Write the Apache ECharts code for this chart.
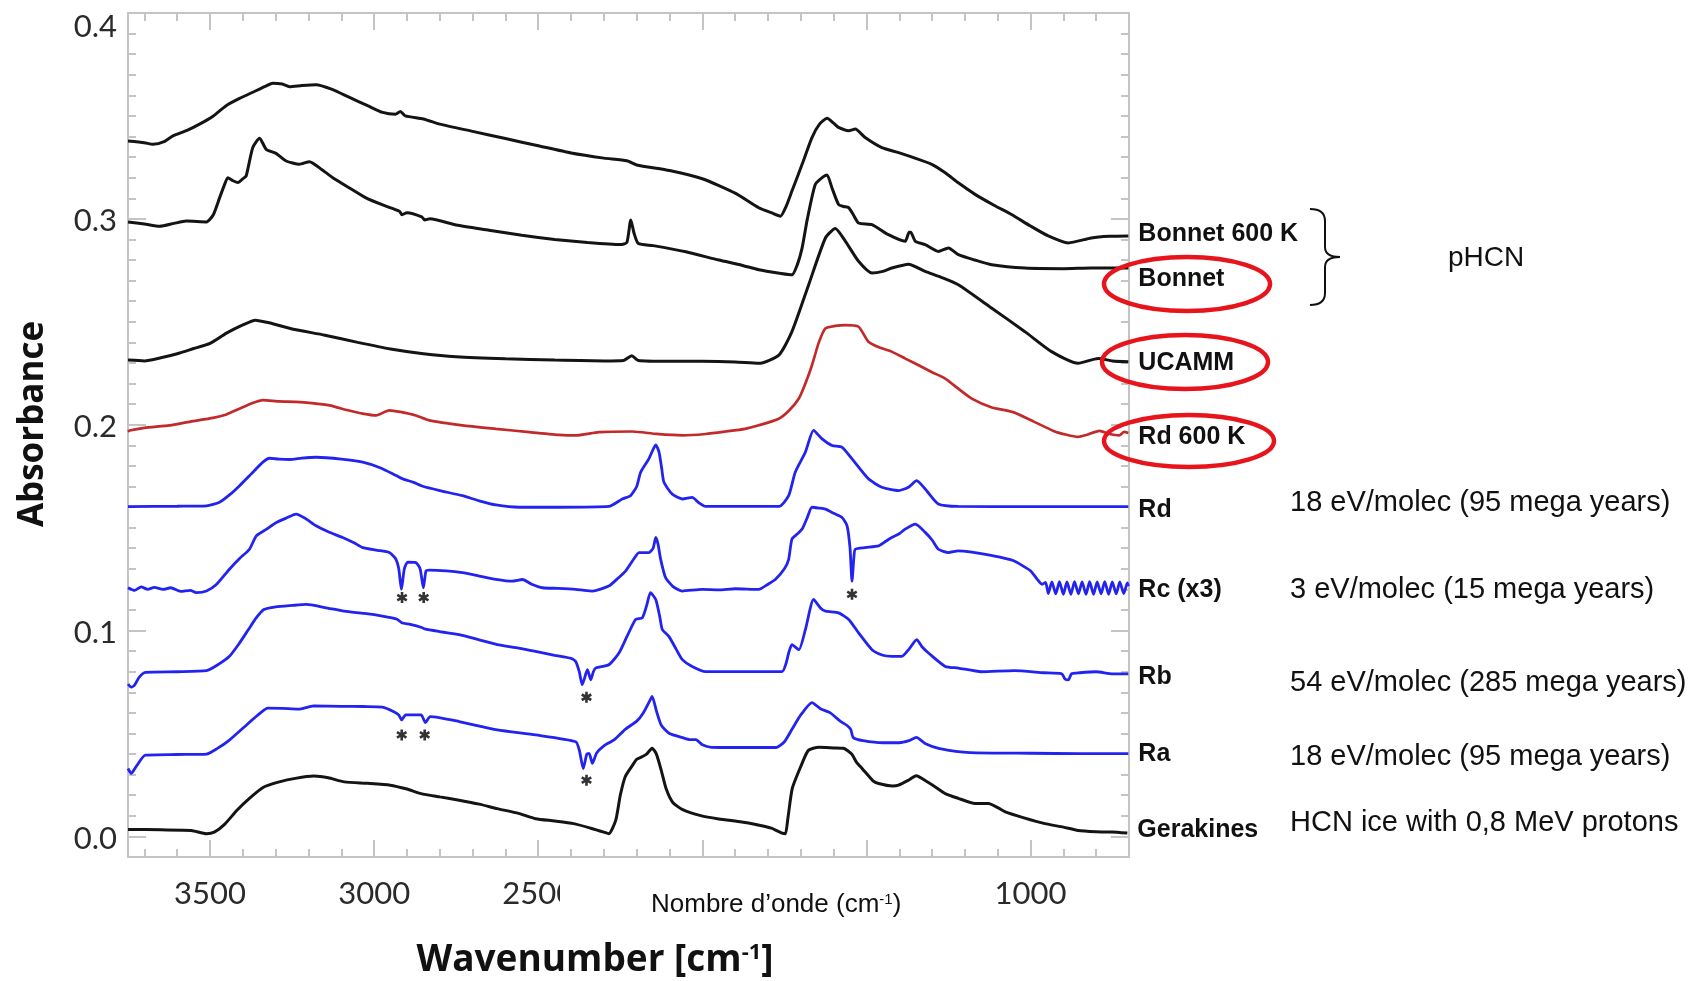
<!DOCTYPE html>
<html>
<head>
<meta charset="utf-8">
<title>IR spectra – absorbance vs wavenumber</title>
<script src="https://cdn.jsdelivr.net/npm/echarts@6/dist/echarts.min.js"></script>
<style>
  html, body { margin: 0; padding: 0; background: #ffffff; }
  #chart { width: 1693px; height: 981px; }
</style>
</head>
<body>
<div id="chart"></div>
<script>
// ---- Axis ticks ----------------------------------------------------------
const xMajorTicks = [1000, 1500, 2000, 2500, 3000, 3500];
const yMajorTicks = [0, 0.1, 0.2, 0.3, 0.4];

// ---- Spectra: [wavenumber (cm-1), absorbance], high to low wavenumber ----
const bonnet600K = [
  [3750, 0.3378], [3700, 0.3370], [3674, 0.3362], [3640, 0.3375], [3613, 0.3403], [3570, 0.3430],
  [3532, 0.3460], [3490, 0.3500], [3451, 0.3550], [3410, 0.3585], [3370, 0.3615], [3330, 0.3645],
  [3309, 0.3659], [3280, 0.3655], [3258, 0.3642], [3220, 0.3648], [3177, 0.3652], [3130, 0.3630],
  [3075, 0.3590], [3020, 0.3550], [2974, 0.3517], [2935, 0.3508], [2920, 0.3522], [2905, 0.3500],
  [2850, 0.3485], [2800, 0.3460], [2700, 0.3425], [2600, 0.3390], [2500, 0.3355], [2400, 0.3320],
  [2300, 0.3295], [2230, 0.3282], [2200, 0.3262], [2100, 0.3235], [2000, 0.3195], [1900, 0.3125],
  [1828, 0.3054], [1790, 0.3030], [1762, 0.3013], [1745, 0.3060], [1727, 0.3135], [1696, 0.3265],
  [1666, 0.3395], [1643, 0.3460], [1620, 0.3489], [1600, 0.3465], [1585, 0.3444], [1554, 0.3428],
  [1534, 0.3436], [1504, 0.3395], [1453, 0.3346], [1402, 0.3322], [1372, 0.3306], [1301, 0.3265],
  [1260, 0.3224], [1220, 0.3175], [1169, 0.3119], [1110, 0.3065], [1058, 0.3021], [1000, 0.2965],
  [946, 0.2917], [885, 0.2883], [815, 0.2907], [760, 0.2915], [702, 0.2917]
];

const bonnet = [
  [3750, 0.2985], [3700, 0.2975], [3653, 0.2964], [3610, 0.2978], [3572, 0.2989], [3511, 0.2985],
  [3490, 0.3020], [3471, 0.3102], [3455, 0.3170], [3446, 0.3200], [3430, 0.3185], [3415, 0.3176],
  [3400, 0.3195], [3390, 0.3208], [3370, 0.3346], [3349, 0.3392], [3329, 0.3338], [3298, 0.3317],
  [3268, 0.3281], [3228, 0.3265], [3197, 0.3278], [3160, 0.3240], [3126, 0.3200], [3075, 0.3150],
  [3025, 0.3102], [2970, 0.3065], [2923, 0.3037], [2915, 0.3020], [2900, 0.3030], [2855, 0.3010],
  [2846, 0.2995], [2830, 0.3000], [2750, 0.2970], [2650, 0.2945], [2550, 0.2920], [2450, 0.2900],
  [2350, 0.2885], [2250, 0.2875], [2230, 0.2885], [2218, 0.2995], [2208, 0.2930], [2195, 0.2880],
  [2150, 0.2870], [2050, 0.2840], [1950, 0.2800], [1880, 0.2775], [1828, 0.2753], [1760, 0.2735],
  [1727, 0.2728], [1710, 0.2780], [1696, 0.2859], [1680, 0.3000], [1656, 0.3167], [1635, 0.3200],
  [1620, 0.3213], [1605, 0.3150], [1585, 0.3070], [1570, 0.3060], [1554, 0.3054], [1540, 0.3020],
  [1524, 0.2980], [1483, 0.2972], [1433, 0.2923], [1382, 0.2891], [1370, 0.2935], [1365, 0.2935],
  [1351, 0.2891], [1321, 0.2875], [1281, 0.2842], [1250, 0.2859], [1220, 0.2826], [1170, 0.2800],
  [1118, 0.2777], [1017, 0.2761], [900, 0.2758], [814, 0.2761], [702, 0.2761]
];

const ucamm = [
  [3750, 0.2314], [3700, 0.2310], [3650, 0.2325], [3600, 0.2345], [3550, 0.2370], [3500, 0.2395],
  [3450, 0.2445], [3400, 0.2485], [3362, 0.2508], [3320, 0.2495], [3250, 0.2465], [3150, 0.2435],
  [3050, 0.2400], [2950, 0.2368], [2850, 0.2345], [2750, 0.2330], [2600, 0.2320], [2450, 0.2314],
  [2300, 0.2310], [2240, 0.2312], [2215, 0.2335], [2195, 0.2312], [2100, 0.2308], [2000, 0.2308],
  [1900, 0.2305], [1828, 0.2298], [1767, 0.2338], [1727, 0.2452], [1676, 0.2680], [1625, 0.2907],
  [1595, 0.2953], [1564, 0.2891], [1524, 0.2794], [1483, 0.2737], [1450, 0.2745], [1423, 0.2761],
  [1372, 0.2780], [1321, 0.2745], [1270, 0.2715], [1220, 0.2680], [1118, 0.2566], [1017, 0.2452],
  [936, 0.2355], [855, 0.2298], [794, 0.2322], [750, 0.2310], [702, 0.2306]
];

const rd600K = [
  [3750, 0.1966], [3745, 0.1972], [3700, 0.1985], [3623, 0.1997], [3560, 0.2015], [3491, 0.2033],
  [3450, 0.2050], [3410, 0.2078], [3370, 0.2105], [3339, 0.2119], [3290, 0.2113], [3238, 0.2111],
  [3190, 0.2105], [3136, 0.2094], [3080, 0.2070], [3035, 0.2054], [2994, 0.2045], [2954, 0.2070],
  [2920, 0.2062], [2873, 0.2045], [2832, 0.2021], [2731, 0.1997], [2629, 0.1980], [2527, 0.1964],
  [2437, 0.1951], [2386, 0.1948], [2315, 0.1964], [2214, 0.1967], [2140, 0.1955], [2061, 0.1948],
  [1990, 0.1955], [1929, 0.1967], [1870, 0.1980], [1828, 0.1997], [1767, 0.2029], [1735, 0.2070],
  [1706, 0.2127], [1686, 0.2200], [1666, 0.2289], [1645, 0.2400], [1625, 0.2468], [1595, 0.2480],
  [1564, 0.2484], [1524, 0.2476], [1494, 0.2403], [1460, 0.2375], [1423, 0.2355], [1380, 0.2320],
  [1341, 0.2289], [1300, 0.2255], [1260, 0.2224], [1220, 0.2175], [1179, 0.2127], [1120, 0.2085],
  [1053, 0.2061], [990, 0.2015], [930, 0.1970], [890, 0.1951], [856, 0.1941], [830, 0.1950],
  [790, 0.1970], [760, 0.1955], [730, 0.1948], [715, 0.1965], [702, 0.1960]
];

const rd = [
  [3750, 0.1602], [3600, 0.1604], [3511, 0.1606], [3471, 0.1623], [3440, 0.1660], [3410, 0.1704],
  [3375, 0.1760], [3339, 0.1818], [3319, 0.1837], [3290, 0.1833], [3258, 0.1831], [3220, 0.1838],
  [3177, 0.1842], [3100, 0.1833], [3035, 0.1818], [2980, 0.1790], [2933, 0.1753], [2913, 0.1737],
  [2880, 0.1720], [2852, 0.1701], [2800, 0.1680], [2731, 0.1655], [2680, 0.1630], [2629, 0.1610],
  [2558, 0.1599], [2437, 0.1599], [2285, 0.1603], [2244, 0.1639], [2219, 0.1655], [2200, 0.1700],
  [2188, 0.1769], [2163, 0.1834], [2150, 0.1880], [2142, 0.1902], [2132, 0.1867], [2124, 0.1790],
  [2117, 0.1720], [2092, 0.1663], [2061, 0.1639], [2031, 0.1647], [2010, 0.1620], [1990, 0.1603],
  [1767, 0.1603], [1737, 0.1655], [1717, 0.1769], [1686, 0.1867], [1661, 0.1972], [1636, 0.1932],
  [1605, 0.1899], [1575, 0.1891], [1544, 0.1834], [1494, 0.1737], [1453, 0.1696], [1402, 0.1680],
  [1372, 0.1696], [1347, 0.1728], [1321, 0.1688], [1281, 0.1615], [1220, 0.1603], [1000, 0.1602],
  [702, 0.1602]
];

const rc = [
  [3750, 0.1208], [3730, 0.1195], [3710, 0.1212], [3690, 0.1200], [3670, 0.1210], [3643, 0.1200],
  [3620, 0.1208], [3590, 0.1190], [3560, 0.1195], [3542, 0.1184], [3511, 0.1192], [3480, 0.1225],
  [3441, 0.1298], [3410, 0.1350], [3380, 0.1395], [3359, 0.1460], [3330, 0.1490], [3298, 0.1525],
  [3270, 0.1545], [3238, 0.1566], [3210, 0.1545], [3177, 0.1509], [3140, 0.1480], [3096, 0.1452],
  [3060, 0.1425], [3035, 0.1403], [2990, 0.1390], [2954, 0.1379], [2935, 0.1350], [2925, 0.1300],
  [2917, 0.1200], [2908, 0.1300], [2898, 0.1332], [2873, 0.1330], [2860, 0.1300], [2850, 0.1208],
  [2842, 0.1290], [2832, 0.1294], [2780, 0.1290], [2731, 0.1281], [2680, 0.1265], [2629, 0.1249],
  [2580, 0.1240], [2548, 0.1248], [2520, 0.1225], [2487, 0.1208], [2440, 0.1205], [2386, 0.1200],
  [2360, 0.1195], [2335, 0.1192], [2285, 0.1216], [2260, 0.1250], [2234, 0.1289], [2210, 0.1345],
  [2193, 0.1379], [2163, 0.1379], [2150, 0.1400], [2142, 0.1452], [2135, 0.1420], [2127, 0.1346],
  [2112, 0.1257], [2090, 0.1215], [2061, 0.1192], [2000, 0.1200], [1950, 0.1198], [1900, 0.1203],
  [1828, 0.1200], [1800, 0.1225], [1777, 0.1249], [1750, 0.1300], [1737, 0.1346], [1727, 0.1444],
  [1710, 0.1470], [1696, 0.1493], [1680, 0.1550], [1666, 0.1599], [1645, 0.1595], [1625, 0.1590],
  [1600, 0.1570], [1575, 0.1550], [1559, 0.1509], [1550, 0.1400], [1544, 0.1240], [1538, 0.1360],
  [1534, 0.1395], [1504, 0.1403], [1463, 0.1411], [1440, 0.1435], [1423, 0.1452], [1400, 0.1470],
  [1382, 0.1493], [1351, 0.1517], [1321, 0.1477], [1300, 0.1440], [1281, 0.1395], [1250, 0.1379],
  [1220, 0.1387], [1184, 0.1382], [1120, 0.1365], [1053, 0.1340], [1000, 0.1290], [980, 0.1250],
  [965, 0.1225], [954, 0.1234], [946, 0.1180], [935, 0.1236], [923, 0.1178], [912, 0.1238],
  [900, 0.1176], [889, 0.1236], [877, 0.1176], [866, 0.1238], [854, 0.1178], [843, 0.1236],
  [831, 0.1176], [820, 0.1238], [808, 0.1176], [797, 0.1236], [785, 0.1178], [774, 0.1238],
  [762, 0.1176], [751, 0.1236], [739, 0.1178], [728, 0.1236], [716, 0.1180], [705, 0.1232],
  [702, 0.1215]
];

const rb = [
  [3750, 0.0740], [3740, 0.0725], [3730, 0.0735], [3715, 0.0775], [3697, 0.0797], [3600, 0.0800],
  [3511, 0.0805], [3480, 0.0830], [3441, 0.0875], [3410, 0.0940], [3383, 0.1005], [3360, 0.1060],
  [3336, 0.1102], [3300, 0.1115], [3250, 0.1122], [3207, 0.1127], [3150, 0.1112], [3091, 0.1094],
  [3030, 0.1083], [2975, 0.1070], [2930, 0.1055], [2916, 0.1038], [2890, 0.1030], [2855, 0.1015],
  [2846, 0.1008], [2800, 0.0995], [2741, 0.0980], [2680, 0.0955], [2625, 0.0932], [2560, 0.0915],
  [2508, 0.0899], [2450, 0.0880], [2400, 0.0865], [2386, 0.0850], [2375, 0.0800], [2366, 0.0737],
  [2355, 0.0790], [2350, 0.0810], [2340, 0.0761], [2332, 0.0800], [2325, 0.0818], [2285, 0.0834],
  [2254, 0.0891], [2230, 0.0970], [2203, 0.1054], [2183, 0.1062], [2170, 0.1120], [2158, 0.1184],
  [2142, 0.1151], [2130, 0.1070], [2122, 0.1005], [2102, 0.0972], [2080, 0.0910], [2061, 0.0859],
  [2031, 0.0826], [1990, 0.0801], [1757, 0.0801], [1745, 0.0840], [1737, 0.0891], [1727, 0.0932],
  [1706, 0.0907], [1686, 0.1005], [1661, 0.1151], [1640, 0.1110], [1625, 0.1094], [1585, 0.1086],
  [1554, 0.1054], [1524, 0.0989], [1483, 0.0907], [1450, 0.0880], [1423, 0.0875], [1392, 0.0875],
  [1370, 0.0910], [1347, 0.0956], [1330, 0.0920], [1311, 0.0891], [1260, 0.0826], [1220, 0.0818],
  [1150, 0.0800], [1050, 0.0805], [960, 0.0795], [905, 0.0790], [895, 0.0765], [885, 0.0760],
  [875, 0.0790], [850, 0.0795], [800, 0.0800], [750, 0.0790], [702, 0.0790]
];

const ra = [
  [3750, 0.0330], [3740, 0.0306], [3725, 0.0340], [3697, 0.0395], [3600, 0.0398], [3511, 0.0400],
  [3480, 0.0425], [3441, 0.0468], [3383, 0.0550], [3350, 0.0595], [3324, 0.0623], [3280, 0.0622],
  [3231, 0.0618], [3184, 0.0634], [3100, 0.0632], [3033, 0.0631], [2975, 0.0628], [2940, 0.0606],
  [2925, 0.0590], [2916, 0.0566], [2904, 0.0590], [2857, 0.0590], [2844, 0.0553], [2829, 0.0582],
  [2741, 0.0558], [2625, 0.0517], [2508, 0.0493], [2386, 0.0460], [2375, 0.0420], [2363, 0.0330],
  [2352, 0.0400], [2345, 0.0403], [2335, 0.0355], [2322, 0.0405], [2300, 0.0440], [2268, 0.0470],
  [2235, 0.0520], [2200, 0.0560], [2180, 0.0600], [2160, 0.0660], [2153, 0.0680], [2140, 0.0610],
  [2125, 0.0540], [2100, 0.0500], [2060, 0.0480], [2038, 0.0470], [2020, 0.0470], [2000, 0.0445],
  [1972, 0.0433], [1900, 0.0432], [1775, 0.0432], [1750, 0.0460], [1726, 0.0523], [1700, 0.0590],
  [1666, 0.0650], [1640, 0.0620], [1610, 0.0600], [1580, 0.0560], [1560, 0.0540], [1548, 0.0520],
  [1540, 0.0480], [1510, 0.0465], [1450, 0.0455], [1400, 0.0455], [1370, 0.0465], [1348, 0.0481],
  [1320, 0.0450], [1280, 0.0428], [1184, 0.0407], [1000, 0.0404], [850, 0.0402], [702, 0.0402]
];

const gerakines = [
  [3750, 0.0034], [3650, 0.0032], [3557, 0.0029], [3511, 0.0013], [3487, 0.0021], [3455, 0.0060],
  [3418, 0.0127], [3380, 0.0185], [3336, 0.0240], [3289, 0.0265], [3240, 0.0282], [3184, 0.0293],
  [3140, 0.0285], [3091, 0.0265], [3020, 0.0258], [2951, 0.0249], [2900, 0.0230], [2857, 0.0208],
  [2800, 0.0192], [2741, 0.0176], [2680, 0.0157], [2625, 0.0135], [2560, 0.0112], [2508, 0.0086],
  [2450, 0.0075], [2392, 0.0062], [2340, 0.0040], [2300, 0.0021], [2285, 0.0013], [2264, 0.0078],
  [2250, 0.0200], [2235, 0.0290], [2215, 0.0340], [2200, 0.0375], [2186, 0.0385], [2170, 0.0400],
  [2153, 0.0428], [2140, 0.0400], [2125, 0.0320], [2110, 0.0230], [2090, 0.0165], [2060, 0.0130],
  [2005, 0.0101], [1950, 0.0085], [1880, 0.0070], [1841, 0.0059], [1790, 0.0040], [1759, 0.0017],
  [1747, 0.0013], [1740, 0.0080], [1726, 0.0233], [1700, 0.0340], [1677, 0.0418], [1645, 0.0433],
  [1600, 0.0430], [1570, 0.0428], [1545, 0.0400], [1530, 0.0360], [1512, 0.0328], [1480, 0.0270],
  [1463, 0.0257], [1420, 0.0245], [1402, 0.0249], [1372, 0.0273], [1348, 0.0295], [1320, 0.0270],
  [1290, 0.0240], [1260, 0.0208], [1220, 0.0185], [1169, 0.0160], [1128, 0.0160], [1100, 0.0140],
  [1077, 0.0119], [1020, 0.0090], [956, 0.0062], [900, 0.0045], [855, 0.0029], [800, 0.0023],
  [753, 0.0021], [705, 0.0016]
];

// Contaminant bands flagged with an asterisk
const asteriskMarks = [
  [2915, 0.116], [2849, 0.116], [1544, 0.1176], [2353, 0.0676],
  [2916, 0.0493], [2846, 0.0493], [2353, 0.0273]
];

// Irradiation doses, one per ice residue
const doseNotes = [
  '18 eV/molec (95 mega years)',
  '3 eV/molec (15 mega years)',
  '54 eV/molec (285 mega years)',
  '18 eV/molec (95 mega years)',
  'HCN ice with 0,8 MeV protons'
];

// ---- Styling ---------------------------------------------------------------
const BLACK = '#141414';
const RED = '#c22a2a';
const BLUE = '#2323f0';
const AXIS_GRAY = '#c4c4c4';
const TICK_FONT = 'Lato, "Noto Sans", sans-serif';
const LABEL_FONT = '"Liberation Sans", Arial, sans-serif';
const TITLE_FONT = '"Open Sans", "Noto Sans", sans-serif';

const xMinorTicks = [];
for (let w = 800; w <= 3700; w += 100) xMinorTicks.push(w);
const yMinorTicks = [];
for (let i = 0; i <= 40; i++) yMinorTicks.push(i / 100);

function xAxisDef(position, ticks, len, withLabels) {
  return {
    type: 'value', position, min: 700, max: 3750, inverse: true,
    axisLine: { show: true, onZero: false, lineStyle: { color: AXIS_GRAY, width: 2 } },
    axisTick: { show: true, inside: true, length: len, customValues: ticks,
                lineStyle: { color: AXIS_GRAY, width: 2 } },
    axisLabel: withLabels ? {
      show: true, customValues: xMajorTicks, margin: 21,
      formatter: v => String(v),
      fontFamily: TICK_FONT, fontSize: 31, color: '#2a2a2a'
    } : { show: false },
    splitLine: { show: false }
  };
}

function yAxisDef(position, ticks, len, withLabels) {
  return {
    type: 'value', position, min: -0.01, max: 0.40,
    axisLine: { show: true, onZero: false, lineStyle: { color: AXIS_GRAY, width: 2 } },
    axisTick: { show: true, inside: true, length: len, customValues: ticks,
                lineStyle: { color: AXIS_GRAY, width: 2 } },
    axisLabel: withLabels ? {
      show: true, customValues: yMajorTicks, margin: 11,
      formatter: v => (v > 0.35 ? '{top|' : '{n|') + v.toFixed(1) + '}',
      rich: {
        n: { fontFamily: TICK_FONT, fontSize: 31, color: '#2a2a2a', padding: [5, 0, 0, 0] },
        top: { fontFamily: TICK_FONT, fontSize: 31, color: '#2a2a2a', padding: [28, 0, 0, 0] }
      }
    } : { show: false },
    splitLine: { show: false }
  };
}

function spectrum(name, data, color, width, labelDy) {
  return {
    type: 'line', name, data,
    xAxisIndex: 0, yAxisIndex: 0,
    symbol: 'none', showSymbol: false,
    smooth: 0.2,
    lineStyle: { color, width },
    z: 3,
    markPoint: {
      symbol: 'circle', symbolSize: 0, silent: true,
      data: [{ coord: data[data.length - 1] }],
      label: {
        show: true, position: 'right', distance: 10, offset: [0, labelDy],
        formatter: name,
        fontFamily: LABEL_FONT, fontWeight: 'bold', fontSize: 25, color: '#111'
      }
    }
  };
}

const asteriskPath = 'path://M-1.2,-5L1.2,-5L1.2,5L-1.2,5Z' +
  'M3.73,-3.54L4.93,-1.46L-3.73,3.54L-4.93,1.46Z' +
  'M-4.93,-1.46L-3.73,-3.54L4.93,1.46L3.73,3.54Z';

const chart = echarts.init(document.getElementById('chart'), null, { renderer: 'canvas' });

const notesY = [503, 590, 683, 757, 823];
const noteGraphics = doseNotes.map((t, i) => ({
  type: 'text', x: 1290, y: notesY[i],
  style: { text: t, fontFamily: LABEL_FONT, fontSize: 29, fill: '#111',
           align: 'left', verticalAlign: 'middle', textAlign: 'left', textVerticalAlign: 'middle' }
}));

// Curly bracket grouping the pHCN samples, built from straight and curved strokes
const bracketStyle = { fill: 'none', stroke: '#111', lineWidth: 2 };
const bracketGraphics = [
  { type: 'bezierCurve', shape: { x1: 1310, y1: 209, cpx1: 1325, cpy1: 209, x2: 1325, y2: 221 } },
  { type: 'line', shape: { x1: 1325, y1: 221, x2: 1325, y2: 247 } },
  { type: 'bezierCurve', shape: { x1: 1325, y1: 247, cpx1: 1325, cpy1: 257, x2: 1340, y2: 257 } },
  { type: 'bezierCurve', shape: { x1: 1340, y1: 257, cpx1: 1325, cpy1: 257, x2: 1325, y2: 267 } },
  { type: 'line', shape: { x1: 1325, y1: 267, x2: 1325, y2: 293 } },
  { type: 'bezierCurve', shape: { x1: 1325, y1: 293, cpx1: 1325, cpy1: 305, x2: 1310, y2: 305 } }
].map(g => Object.assign(g, { style: bracketStyle, z: 60 }));

const option = {
  backgroundColor: '#ffffff',
  animation: false,
  grid: { left: 128, right: 564, top: 13, bottom: 124, containLabel: false, outerBoundsMode: 'none' },
  xAxis: [
    xAxisDef('bottom', xMajorTicks, 17, true),
    xAxisDef('bottom', xMinorTicks, 8, false),
    xAxisDef('top', xMajorTicks, 17, false),
    xAxisDef('top', xMinorTicks, 8, false)
  ],
  yAxis: [
    yAxisDef('left', yMajorTicks, 18, true),
    yAxisDef('left', yMinorTicks, 8, false),
    yAxisDef('right', yMajorTicks, 18, false),
    yAxisDef('right', yMinorTicks, 8, false)
  ],
  series: [
    spectrum('Bonnet 600 K', bonnet600K, BLACK, 3, -2),
    spectrum('Bonnet', bonnet, BLACK, 3, 11),
    spectrum('UCAMM', ucamm, BLACK, 3, 1),
    spectrum('Rd 600 K', rd600K, RED, 2.7, 4),
    spectrum('Rd', rd, BLUE, 2.8, 3),
    spectrum('Rc (x3)', rc, BLUE, 2.8, 4),
    spectrum('Rb', rb, BLUE, 2.8, 3),
    spectrum('Ra', ra, BLUE, 2.8, 0),
    spectrum('Gerakines', gerakines, BLACK, 3, -3),
    {
      type: 'scatter', name: 'asterisks', data: asteriskMarks,
      xAxisIndex: 0, yAxisIndex: 0,
      symbol: asteriskPath, symbolSize: 11, symbolKeepAspect: true,
      itemStyle: { color: '#000' }, silent: true, z: 4
    }
  ],
  graphic: [
    // Axis titles
    {
      type: 'text', x: 33, y: 424, rotation: Math.PI / 2,
      style: { text: 'Absorbance', fontFamily: TITLE_FONT, fontWeight: 'bold', fontSize: 35, fill: '#111',
               align: 'center', verticalAlign: 'middle', textAlign: 'center', textVerticalAlign: 'middle' }
    },
    {
      type: 'text', x: 595, y: 960,
      style: {
        text: '{a|Wavenumber [cm}{s|-1}{a|]}',
        align: 'center', verticalAlign: 'middle', textAlign: 'center', textVerticalAlign: 'middle',
        rich: {
          a: { fontFamily: TITLE_FONT, fontWeight: 'bold', fontSize: 37, fill: '#111', color: '#111' },
          s: { fontFamily: TITLE_FONT, fontWeight: 'bold', fontSize: 22, fill: '#111', color: '#111',
               verticalAlign: 'top', padding: [0, 0, 14, 0] }
        }
      }
    },
    // French axis caption on a white panel
    { type: 'rect', shape: { x: 560, y: 866, width: 437, height: 68 }, style: { fill: '#ffffff' }, z: 50 },
    {
      type: 'text', x: 651, y: 905, z: 51,
      style: {
        text: '{a|Nombre d\u2019onde (cm}{s|-1}{a|)}',
        align: 'left', verticalAlign: 'middle', textAlign: 'left', textVerticalAlign: 'middle',
        rich: {
          a: { fontFamily: LABEL_FONT, fontSize: 26, fill: '#111', color: '#111' },
          s: { fontFamily: LABEL_FONT, fontSize: 15, fill: '#111', color: '#111',
               verticalAlign: 'top', padding: [0, 0, 10, 0] }
        }
      }
    },
    // Highlighted samples
    { type: 'ellipse', shape: { cx: 1187, cy: 284, rx: 83, ry: 27 },
      style: { fill: 'none', stroke: '#e8141b', lineWidth: 4.5 }, z: 60 },
    { type: 'ellipse', shape: { cx: 1185, cy: 362, rx: 83, ry: 27 },
      style: { fill: 'none', stroke: '#e8141b', lineWidth: 4.5 }, z: 60 },
    { type: 'ellipse', shape: { cx: 1189, cy: 441, rx: 85, ry: 26 },
      style: { fill: 'none', stroke: '#e8141b', lineWidth: 4.5 }, z: 60 },
    ...bracketGraphics,
    {
      type: 'text', x: 1448, y: 258,
      style: { text: 'pHCN', fontFamily: LABEL_FONT, fontSize: 28, fill: '#111',
               align: 'left', verticalAlign: 'middle', textAlign: 'left', textVerticalAlign: 'middle' }
    },
    ...noteGraphics
  ]
};

chart.setOption(option);
</script>
</body>
</html>
